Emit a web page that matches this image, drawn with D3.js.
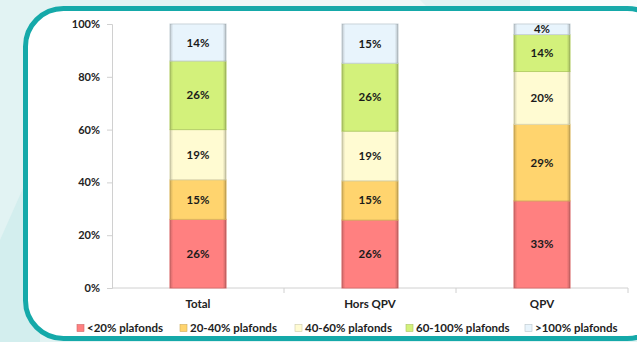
<!DOCTYPE html>
<html>
<head>
<meta charset="utf-8">
<script src="https://cdn.jsdelivr.net/npm/d3@7"></script>
<style>
  body { margin: 0; background: #fff; }
  svg { display: block; font-family: Lato, "Open Sans", sans-serif; }
</style>
</head>
<body>
<svg width="637" height="342"></svg>
<script>
const categories = ["Total", "Hors QPV", "QPV"];
const seriesNames = ["<20% plafonds", "20-40% plafonds", "40-60% plafonds", "60-100% plafonds", ">100% plafonds"];
const lt20 = [26, 26, 33];
const p20to40 = [15, 15, 29];
const p40to60 = [19, 19, 20];
const p60to100 = [26, 26, 14];
const gt100 = [14, 15, 4];
const yTicks = [0, 0.2, 0.4, 0.6, 0.8, 1];
const colors = ["#ff8080", "#ffd46e", "#fffbd2", "#d3f17b", "#e8f4fc"];

const seriesValues = [lt20, p20to40, p40to60, p60to100, gt100];
const data = categories.map((c, i) => {
  const row = {cat: c};
  seriesNames.forEach((s, j) => row[s] = seriesValues[j][i]);
  return row;
});

const svg = d3.select("svg");

// bevel look on the bar segments
const grad = svg.append("defs").append("linearGradient").attr("id", "bevel");
grad.append("stop").attr("offset", 0).attr("stop-color", "#000").attr("stop-opacity", 0.18);
grad.append("stop").attr("offset", 0.06).attr("stop-color", "#000").attr("stop-opacity", 0);
grad.append("stop").attr("offset", 0.94).attr("stop-color", "#000").attr("stop-opacity", 0);
grad.append("stop").attr("offset", 1).attr("stop-color", "#000").attr("stop-opacity", 0.22);

// background
svg.append("rect").attr("width", 637).attr("height", 342).attr("fill", "#e2f3f3");
svg.append("polygon").attr("points", "0,240 40,150 40,342 0,342").attr("fill", "#d3eeee");
svg.append("polygon").attr("points", "200,0 420,0 440,20 200,20").attr("fill", "#edf8f8");
svg.append("polygon").attr("points", "530,0 637,0 637,20 530,20").attr("fill", "#f7fcfc");

// framed panel
svg.append("rect")
  .attr("x", 25.5).attr("y", 8.5)
  .attr("width", 640).attr("height", 330)
  .attr("rx", 38).attr("ry", 38)
  .attr("fill", "#fff")
  .attr("stroke", "#15a9a9").attr("stroke-width", 5);

const x = d3.scaleBand().domain(categories).range([112, 628]);
const y = d3.scaleLinear().domain([0, 1]).range([288, 24]);
const color = d3.scaleOrdinal().domain(seriesNames).range(colors);

// y axis
const yAxis = svg.append("g")
  .attr("transform", "translate(112,0)")
  .call(d3.axisLeft(y).tickValues(yTicks).tickFormat(d3.format(".0%")).tickSize(5).tickPadding(7));
yAxis.select(".domain").attr("stroke", "#d0d0d0");
yAxis.selectAll(".tick line").attr("stroke", "#d0d0d0");
yAxis.selectAll("text")
  .attr("font-size", 11).attr("font-weight", "bold").attr("fill", "#222")
  .attr("font-family", "Lato, sans-serif");

// x axis
const xAxis = svg.append("g").attr("transform", `translate(0,${y(0)})`);
xAxis.append("line")
  .attr("x1", x.range()[0]).attr("x2", x.range()[1])
  .attr("stroke", "#d0d0d0");
xAxis.selectAll("line.tk")
  .data(categories.slice(1).map(c => x(c)).concat([x.range()[1]]))
  .enter().append("line").attr("class", "tk")
  .attr("x1", d => d).attr("x2", d => d).attr("y1", 0).attr("y2", 5)
  .attr("stroke", "#d0d0d0");
xAxis.selectAll("text")
  .data(categories)
  .enter().append("text")
  .attr("x", d => x(d) + x.bandwidth() / 2)
  .attr("y", 20)
  .attr("text-anchor", "middle")
  .attr("font-size", 11.5).attr("font-weight", "bold").attr("fill", "#222")
  .text(d => d);

// stacked bars
const stack = d3.stack().keys(seriesNames).offset(d3.stackOffsetExpand);
const series = stack(data);
const barW = x.bandwidth() * 0.326;

const layers = svg.append("g").selectAll("g")
  .data(series)
  .enter().append("g");

const segs = layers.selectAll("g")
  .data(s => s.map(d => ({d, key: s.key})))
  .enter().append("g");

segs.append("rect")
  .attr("x", o => x(o.d.data.cat) + (x.bandwidth() - barW) / 2)
  .attr("y", o => y(o.d[1]))
  .attr("width", barW)
  .attr("height", o => y(o.d[0]) - y(o.d[1]))
  .attr("fill", o => color(o.key))
  .attr("stroke", o => d3.color(color(o.key)).darker(0.4))
  .attr("stroke-width", 1);

segs.append("rect")
  .attr("x", o => x(o.d.data.cat) + (x.bandwidth() - barW) / 2)
  .attr("y", o => y(o.d[1]))
  .attr("width", barW)
  .attr("height", o => y(o.d[0]) - y(o.d[1]))
  .attr("fill", "url(#bevel)");

segs.append("text")
  .attr("x", o => x(o.d.data.cat) + x.bandwidth() / 2)
  .attr("y", o => (y(o.d[0]) + y(o.d[1])) / 2)
  .attr("dy", "0.35em")
  .attr("text-anchor", "middle")
  .attr("font-size", 11.5).attr("font-weight", "bold").attr("fill", "#1a1a1a")
  .text(o => o.d.data[o.key] + "%");

// legend
const legendX = [77, 180, 295, 406, 525];
const legend = svg.append("g").selectAll("g")
  .data(seriesNames)
  .enter().append("g")
  .attr("transform", (d, i) => `translate(${legendX[i]},328)`);
legend.append("rect")
  .attr("x", 0).attr("y", -3.5).attr("width", 7).attr("height", 7)
  .attr("fill", d => color(d))
  .attr("stroke", d => d3.color(color(d)).darker(0.6)).attr("stroke-width", 0.6);
legend.append("text")
  .attr("x", 10).attr("dy", "0.35em")
  .attr("font-size", 11.5).attr("font-weight", "bold").attr("fill", "#222")
  .text(d => d);
</script>
</body>
</html>
